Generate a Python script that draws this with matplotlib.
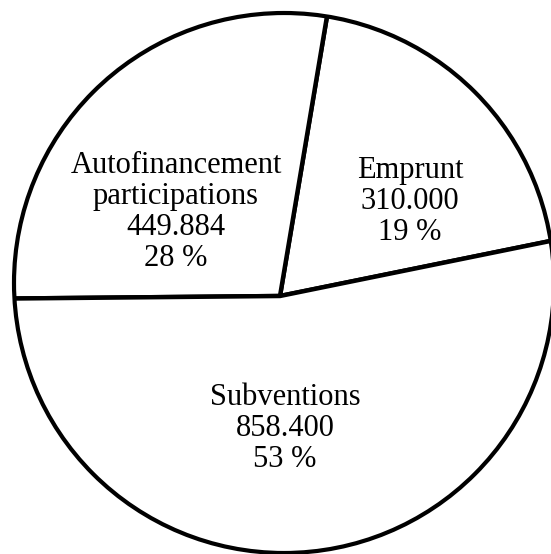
import matplotlib
matplotlib.use("Agg")
import matplotlib.pyplot as plt
from matplotlib.patches import Circle

# Data
categories = ["Emprunt", "Autofinancement\nparticipations", "Subventions"]
values = [310000, 449884, 858400]
percents = ["19 %", "28 %", "53 %"]

# Label anchor (pixel coords of first-line baseline centre) – layout only
label_px = [(410, 178), (176, 173), (285, 405)]
line_px = 31

W, H = 551, 554
CX, CY, R = 284, 283, 270      # outer circle (pixels)
VX, VY = 280, 296              # hand-drawn meeting point of the dividers


def to_data(px, py):
    return (px - CX) / R, (CY - py) / R


fig = plt.figure(figsize=(W / 100, H / 100), dpi=100)
ax = fig.add_axes([0, 0, 1, 1])
ax.set_aspect("equal")
ax.axis("off")

wedges, _ = ax.pie(values, startangle=11.5, counterclock=True, radius=1.3,
                   center=to_data(VX, VY),
                   colors=["white"] * len(values),
                   wedgeprops=dict(edgecolor="black", linewidth=3.2))

ax.set_xlim(-CX / R, (W - CX) / R)
ax.set_ylim(-(H - CY) / R, CY / R)

clip = Circle((0, 0), 1.0, facecolor="none", edgecolor="none",
              transform=ax.transData)
ax.add_patch(clip)
for w in wedges:
    w.set_clip_on(True)
    w.set_clip_path(clip)

ax.add_patch(Circle((0, 0), 1.0, facecolor="none", edgecolor="black",
                    linewidth=3.0, zorder=3))


def fmt(v):
    return f"{v:,}".replace(",", ".")


for cat, v, pct, (px, py) in zip(categories, values, percents, label_px):
    lines = cat.split("\n") + [fmt(v), pct]
    for i, ln in enumerate(lines):
        x, y = to_data(px, py + i * line_px)
        ax.text(x, y, ln, ha="center", va="baseline",
                fontsize=22, family="Liberation Serif", color="black")

fig.savefig("out.png", dpi=100, facecolor="white")
